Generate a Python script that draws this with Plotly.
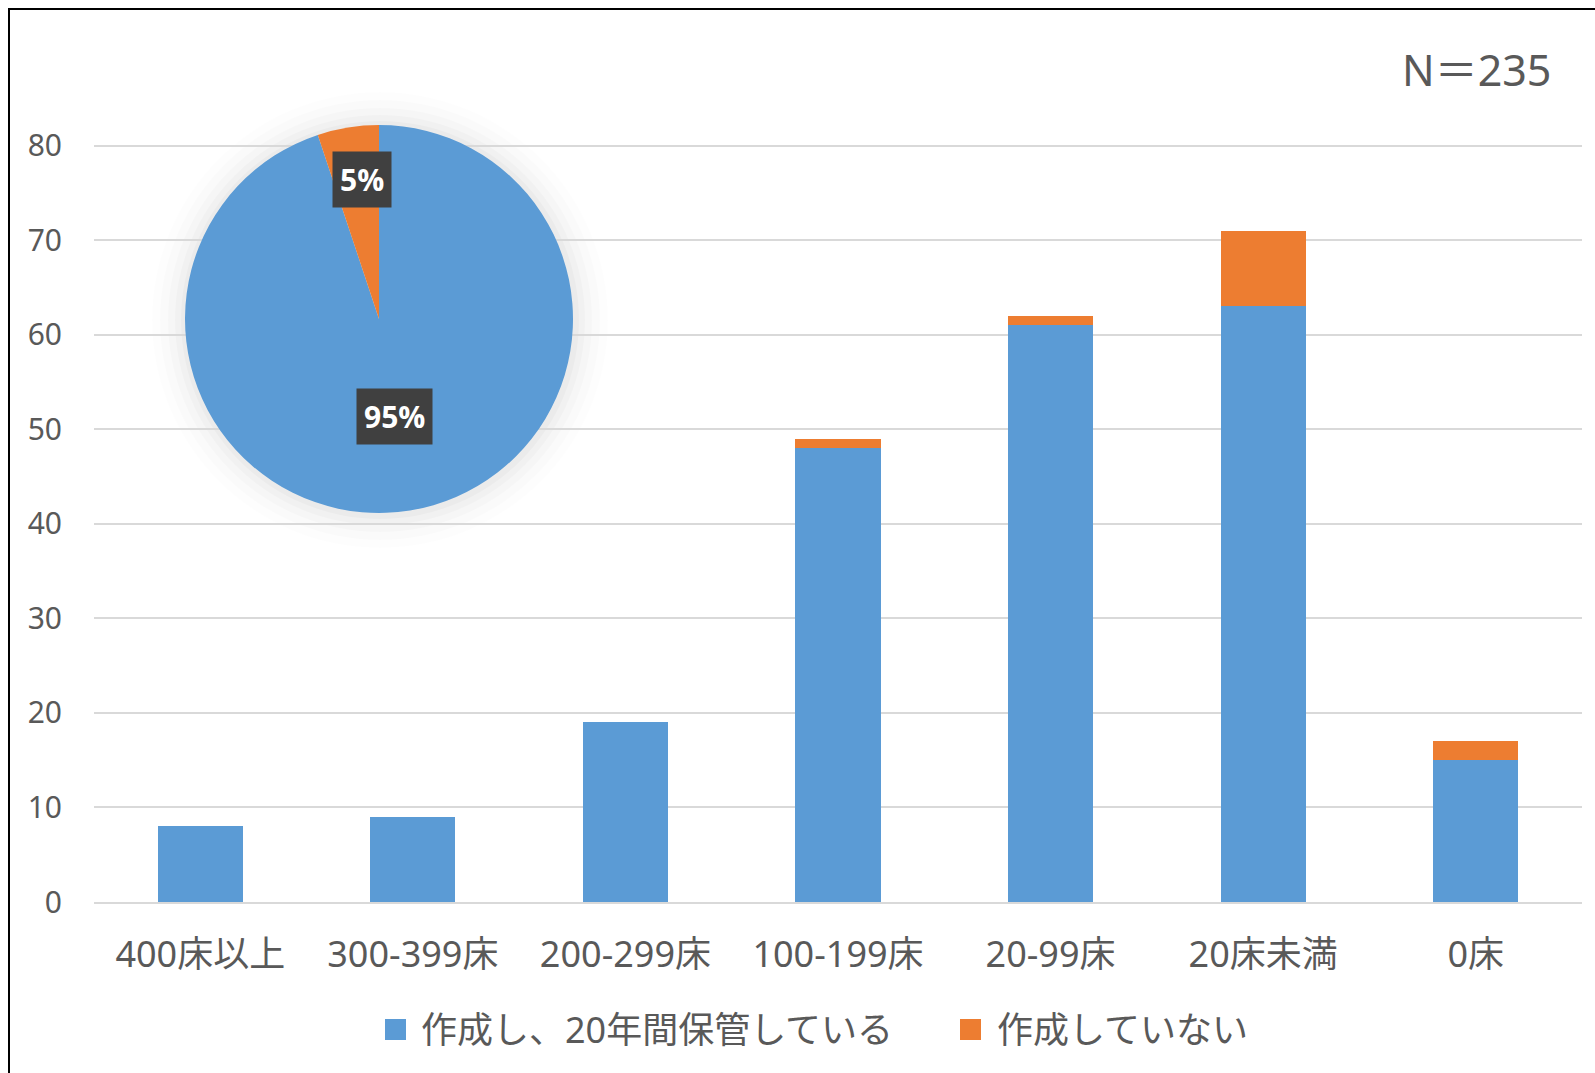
import plotly.graph_objects as go

categories = ["400床以上", "300-399床", "200-299床", "100-199床", "20-99床", "20床未満", "0床"]
kept_20y = [8, 9, 19, 48, 61, 63, 15]
not_made = [0, 0, 0, 1, 1, 8, 2]
series_names = ["作成し、20年間保管している", "作成していない"]
colors = ["#5B9BD5", "#ED7D31"]
n_label = "N＝235"

W, H = 1595, 1073
L, R, T, B = 94, 13, 110, 171
PW, PH = W - L - R, H - T - B
px_per_unit = (902 - 145.5) / 80
ytop = 80 + (145.5 - T) / px_per_unit

def px(x):
    return (x - L) / PW

def py(y):
    return (H - B - y) / PH

FONT = "Noto Sans, Noto Sans CJK JP, sans-serif"
GREY = "#595959"

fig = go.Figure()
for name, vals, c in zip(series_names, [kept_20y, not_made], colors):
    fig.add_trace(go.Bar(x=categories, y=vals, name=name, marker=dict(color=c, line=dict(width=0)),
                         hoverinfo="skip", showlegend=False))

total_kept = sum(kept_20y)
total_not = sum(not_made)
tot = total_kept + total_not

cx, cy, r = 379, 319, 194
# soft shadow behind pie
for extra, op in [(34, 0.008), (26, 0.01), (18, 0.014), (11, 0.018), (5, 0.022)]:
    rr = r + extra
    fig.add_shape(type="circle", xref="paper", yref="paper",
                  x0=px(cx - rr + 1), x1=px(cx + rr + 1), y0=py(cy + rr + 1), y1=py(cy - rr + 1),
                  fillcolor="black", opacity=op, line=dict(width=0), layer="below")

fig.add_trace(go.Pie(values=[total_kept, total_not], labels=series_names, sort=False,
                     direction="clockwise", rotation=0, marker=dict(colors=colors, line=dict(width=0)),
                     textinfo="none", showlegend=False, hoverinfo="skip",
                     domain=dict(x=[px(cx - r), px(cx + r)], y=[py(cy + r), py(cy - r)])))

pcts = [round(100 * total_kept / tot), round(100 * total_not / tot)]
label_pos = [(388, 409), (356, 176)]
for p, (lx, ly) in zip(pcts, label_pos):
    lx, ly = lx * W / 1568, ly * W / 1568
    fig.add_annotation(xref="paper", yref="paper", x=px(lx), y=py(ly), text=f"<b>{p}%</b>",
                       showarrow=False, font=dict(family="Open Sans, sans-serif", size=30, color="white"),
                       bgcolor="#404040", borderpad=7, xanchor="center", yanchor="middle")

fig.add_annotation(xref="paper", yref="paper", x=px(1553), y=py(69), text=n_label, showarrow=False,
                   font=dict(family=FONT, size=43, color=GREY), xanchor="right", yanchor="middle")

# legend (drawn manually to match square size and spacing)
leg_items = [(385, 419), (960, 995)]
for (sx, tx), name, c in zip(leg_items, series_names, colors):
    fig.add_shape(type="rect", xref="paper", yref="paper", x0=px(sx), x1=px(sx + 21),
                  y0=py(1040), y1=py(1019), fillcolor=c, line=dict(width=0))
    fig.add_annotation(xref="paper", yref="paper", x=px(tx), y=py(1029), text=name, showarrow=False,
                       font=dict(family=FONT, size=36, color=GREY), xanchor="left", yanchor="middle")

# outer border
fig.add_shape(type="rect", xref="paper", yref="paper", x0=px(9), x1=px(1650), y0=py(1120), y1=py(9),
              line=dict(color="black", width=2), fillcolor="rgba(0,0,0,0)")

fig.update_layout(
    width=W, height=H, barmode="stack", bargap=0.6,
    margin=dict(l=L, r=R, t=T, b=B, autoexpand=False),
    paper_bgcolor="white", plot_bgcolor="white",
    font=dict(family=FONT, color=GREY),
    xaxis=dict(showgrid=False, showline=True, linecolor="#D9D9D9", linewidth=2,
               tickfont=dict(size=36, color=GREY), ticklabelstandoff=20, ticks=""),
    yaxis=dict(range=[0, ytop], dtick=10, showgrid=True, gridcolor="#D9D9D9", gridwidth=2,
               zeroline=False, tickfont=dict(size=30, color=GREY), ticklabelstandoff=31, ticks=""),
    showlegend=False,
)

fig.write_html("out.html", config={"displayModeBar": False},
               post_script="document.body.style.margin='0';document.body.style.overflow='hidden';")
